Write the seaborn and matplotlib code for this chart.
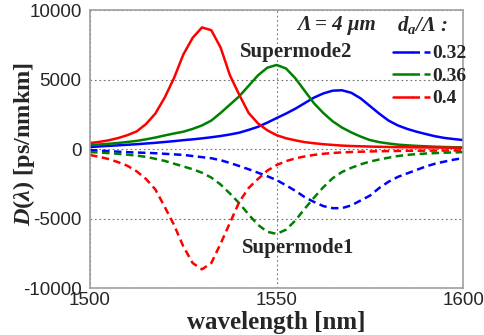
import numpy as np
import pandas as pd
import matplotlib
matplotlib.use("Agg")
import matplotlib.pyplot as plt
import seaborn as sns
from matplotlib.lines import Line2D
from matplotlib.legend_handler import HandlerTuple

# sampled wavelengths (nm)
wavelength = np.linspace(1500, 1600, 41)

# dispersion D(lambda) [ps/nm/km]
d032_sm2 = [150, 190, 230, 270, 310, 350, 400, 450, 510, 570, 640, 700, 770, 850, 940,
            1050, 1180, 1380, 1600, 1900, 2230, 2550, 2900, 3300, 3700, 4000, 4200, 4230,
            4050, 3650, 3100, 2550, 2050, 1700, 1450, 1250, 1080, 920, 800, 720, 650]
d032_sm1 = [-70, -110, -150, -190, -220, -250, -270, -300, -340, -380, -420, -500, -580,
            -660, -800, -1000, -1220, -1450, -1700, -1950, -2230, -2600, -3000, -3450,
            -3800, -4100, -4250, -4250, -4050, -3700, -3350, -2800, -2350, -2000, -1750,
            -1500, -1250, -1050, -900, -760, -650]
d036_sm2 = [290, 330, 380, 440, 510, 590, 700, 830, 980, 1120, 1250, 1450, 1700, 2050, 2600,
            3200, 3800, 4550, 5300, 5850, 6050, 5800, 5100, 4200, 3300, 2600, 2000, 1550,
            1200, 900, 650, 500, 400, 320, 270, 230, 200, 170, 150, 130, 120]
d036_sm1 = [-220, -250, -290, -340, -400, -470, -560, -700, -850, -1050, -1250, -1450,
            -1700, -2050, -2550, -3200, -3900, -4700, -5450, -5950, -6100, -5800, -5150,
            -4300, -3500, -2750, -2100, -1650, -1350, -1100, -900, -750, -620, -500, -420,
            -360, -320, -290, -260, -240, -220]
d040_sm2 = [430, 520, 630, 790, 1000, 1270, 1800, 2550, 3700, 5100, 6800, 8000, 8750, 8550,
            7300, 5300, 3900, 2600, 1850, 1350, 1000, 780, 630, 500, 420, 350, 300, 250, 220,
            200, 180, 165, 150, 140, 130, 120, 115, 110, 100, 95, 90]
d040_sm1 = [-430, -560, -720, -940, -1200, -1600, -2150, -2900, -4150, -5450, -7000, -8200,
            -8650, -8200, -6800, -5300, -3800, -2800, -2150, -1550, -1150, -870, -670, -530,
            -420, -340, -280, -240, -210, -190, -170, -155, -145, -135, -125, -120, -115,
            -110, -105, -100, -95]

ratios = ["0.32", "0.36", "0.4"]
colors = {"0.32": "#0000ff", "0.36": "#008000", "0.4": "#ff0000"}
series = {
    ("0.32", "Supermode2"): d032_sm2, ("0.32", "Supermode1"): d032_sm1,
    ("0.36", "Supermode2"): d036_sm2, ("0.36", "Supermode1"): d036_sm1,
    ("0.4", "Supermode2"): d040_sm2, ("0.4", "Supermode1"): d040_sm1,
}

frames = []
for (r, mode), vals in series.items():
    frames.append(pd.DataFrame({"wavelength": wavelength, "D": vals, "ratio": r, "mode": mode}))
df = pd.concat(frames, ignore_index=True)

sns.set_style("white")
plt.rcParams["font.family"] = ["Liberation Sans", "DejaVu Sans"]
plt.rcParams["axes.unicode_minus"] = False
plt.rcParams["mathtext.fontset"] = "custom"
plt.rcParams["mathtext.it"] = "Liberation Serif:italic:bold"
plt.rcParams["mathtext.rm"] = "Liberation Serif:bold"
plt.rcParams["mathtext.bf"] = "Liberation Serif:bold"

fig = plt.figure(figsize=(4.84, 3.35), dpi=100)
ax = fig.add_axes([0.186, 0.140, 0.771, 0.830])

dash = (3, 1.8)
sns.lineplot(data=df, x="wavelength", y="D", hue="ratio", style="mode",
             hue_order=ratios, palette=colors,
             dashes={"Supermode2": "", "Supermode1": dash},
             linewidth=1.8, legend=False, ax=ax, sort=False, estimator=None)

ax.set_xlim(1500, 1600)
ax.set_ylim(-10000, 10000)
ax.set_xticks([1500, 1550, 1600])
ax.set_yticks([-10000, -5000, 0, 5000, 10000])
ax.set_yticklabels(["-10000", "-5000", "0", "5000", "10000"])
ax.tick_params(length=0, labelsize=13.5)
ax.tick_params(axis="y", pad=6)
ax.tick_params(axis="x", pad=3)
ax.grid(True, linestyle=(0, (1.5, 2.5)), color="#707070", linewidth=0.8)
for s in ax.spines.values():
    s.set_color("#a0a0a0")
    s.set_linewidth(1.2)

serif = ["Liberation Serif", "DejaVu Serif"]
ax.set_xlabel("wavelength [nm]", fontsize=18, fontweight="bold", family=serif, labelpad=1)
ax.set_ylabel(r"$D(\lambda)$ [ps/nmkm]", fontsize=17.5, fontweight="bold", family=serif)
ax.yaxis.set_label_coords(-0.142, 0.52)

ax.text(0.552, 0.849, "Supermode2", transform=ax.transAxes, ha="center", va="center",
        fontsize=15, fontweight="bold", family=serif)
ax.text(0.558, 0.144, "Supermode1", transform=ax.transAxes, ha="center", va="center",
        fontsize=15, fontweight="bold", family=serif)
ax.text(0.66, 0.946, "Λ = 4 μm", transform=ax.transAxes, ha="center", va="center",
        fontsize=15, fontweight="bold", fontstyle="italic", family=serif)
ax.text(0.89, 0.946, r"$d_a$/Λ :", transform=ax.transAxes, ha="center", va="center",
        fontsize=15, fontweight="bold", fontstyle="italic", family=serif)

handles = []
for r in ratios:
    solid = Line2D([], [], color=colors[r], linewidth=1.8)
    dashed = Line2D([], [], color=colors[r], linewidth=1.8, linestyle=(0, dash))
    handles.append((solid, dashed))
ax.legend(handles, ratios, handler_map={tuple: HandlerTuple(ndivide=None, pad=0)},
          loc="upper left", bbox_to_anchor=(0.786, 0.91), frameon=False, borderpad=0,
          handlelength=1.9, handletextpad=0.1, labelspacing=0.25,
          prop={"family": serif, "weight": "bold", "size": 14})

fig.savefig("out.png", dpi=100)
